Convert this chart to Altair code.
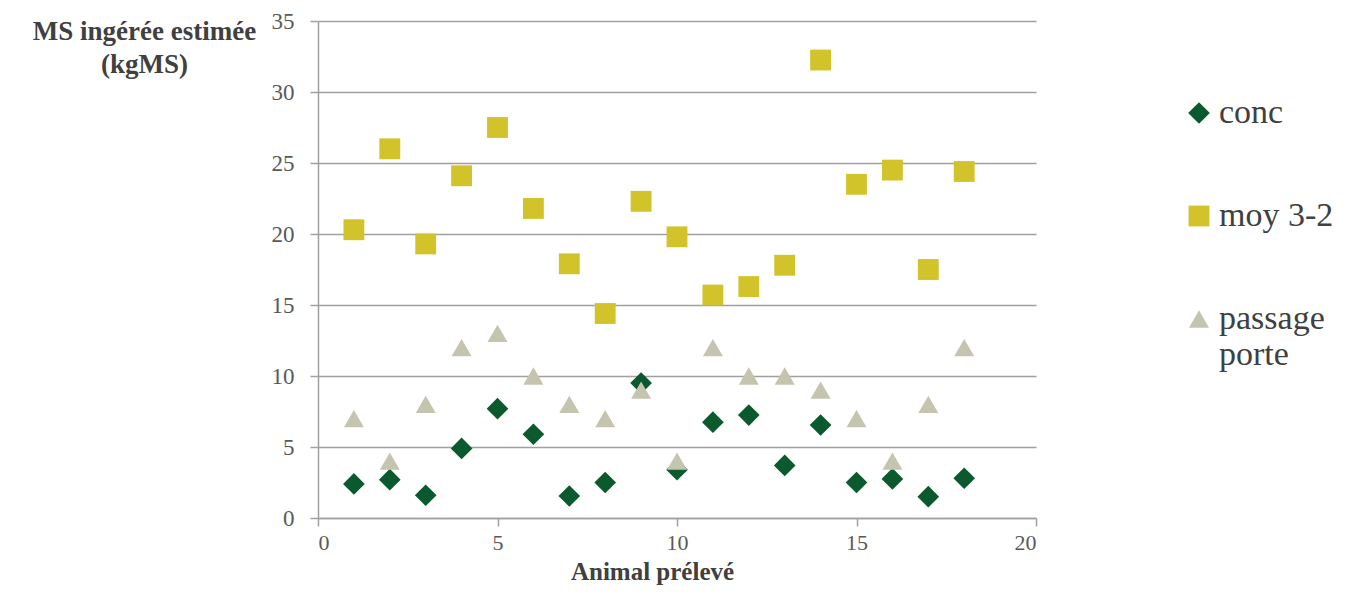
import altair as alt
import pandas as pd

animals = list(range(1, 19))
conc = [2.4, 2.7, 1.6, 4.9, 7.7, 5.9, 1.55, 2.5, 9.5, 3.4, 6.75, 7.25, 3.7, 6.55, 2.5, 2.75, 1.5, 2.8]
moy_3_2 = [20.3, 26.0, 19.3, 24.1, 27.5, 21.8, 17.9, 14.4, 22.3, 19.8, 15.7, 16.3, 17.8, 32.25, 23.5, 24.5, 17.5, 24.4]
passage_porte = [7, 4, 8, 12, 13, 10, 8, 7, 9, 4, 12, 10, 10, 9, 7, 4, 8, 12]

series_names = ["conc", "moy 3-2", "passage porte"]
series_colors = ["#0B5A2E", "#D2C32A", "#C5C4AF"]
series_shapes = ["diamond", "square", "triangle-up"]
series_sizes = [470, 400, 420]
x_ticks = [0, 5, 10, 15, 20]
y_ticks = [0, 5, 10, 15, 20, 25, 30, 35]

rows = []
for name, vals in zip(series_names, [conc, moy_3_2, passage_porte]):
    for a, v in zip(animals, vals):
        rows.append({"animal": a, "value": v, "serie": name})
df = pd.DataFrame(rows)

FONT = "Liberation Serif"

chart = alt.Chart(df).mark_point(filled=True, opacity=1).encode(
    x=alt.X("animal:Q",
            scale=alt.Scale(domain=[0, 20], nice=False, zero=False),
            axis=alt.Axis(values=x_ticks, grid=False, title="Animal prélevé",
                          tickSize=8, labelPadding=6, labelFontSize=22,
                          titleX=334, titleY=61,
                          titleAnchor="start", titleAlign="center",
                          titleBaseline="alphabetic", titleFontSize=25)),
    y=alt.Y("value:Q",
            scale=alt.Scale(domain=[0, 35], nice=False),
            axis=alt.Axis(values=y_ticks, grid=True,
                          title=["MS ingérée  estimée", "(kgMS)"],
                          titleAngle=0, titleAlign="center", titleBaseline="alphabetic",
                          titleX=-174, titleY=18, titleLineHeight=33, titleFontSize=27,
                          tickSize=8, labelPadding=16, labelFontSize=23)),
    color=alt.Color("serie:N",
                    scale=alt.Scale(domain=series_names, range=series_colors),
                    legend=alt.Legend(title=None, orient="none", legendX=864, legendY=75,
                                      labelFontSize=34, labelFont=FONT, labelColor="#404040",
                                      symbolSize=380, rowPadding=69, labelOffset=3,
                                      labelLimit=300, padding=0,
                                      labelExpr="datum.label == 'passage porte' ? ['passage', 'porte'] : datum.label")),
    shape=alt.Shape("serie:N",
                    scale=alt.Scale(domain=series_names, range=series_shapes),
                    legend=None),
    size=alt.Size("serie:N",
                  scale=alt.Scale(domain=series_names, range=series_sizes),
                  legend=None),
).properties(
    width=718, height=497,
    autosize=alt.AutoSizeParams(type="none"),
    padding={"left": 310, "top": 13, "right": 305, "bottom": 67},
).configure_view(
    stroke=None
).configure_axis(
    domainColor="#A0A0A0", domainWidth=1.5,
    gridColor="#A0A0A0", gridWidth=1.5,
    tickColor="#A0A0A0", tickWidth=1.5,
    labelFont=FONT, labelColor="#595959",
    titleFont=FONT, titleFontWeight="bold", titleColor="#404040",
)

chart.save("out.html", embed_options={"renderer": "svg", "actions": False})
